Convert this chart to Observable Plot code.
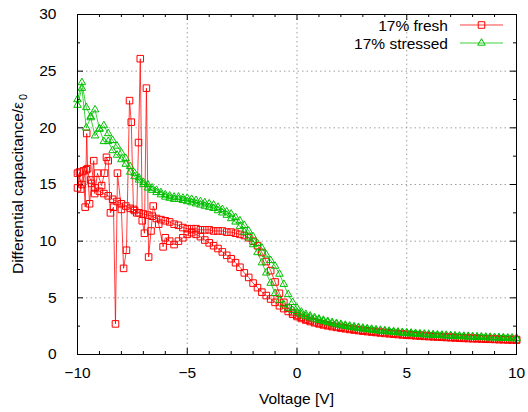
<!DOCTYPE html>
<html><head><meta charset="utf-8">
<script src="https://cdn.jsdelivr.net/npm/d3@7"></script>
<script src="https://cdn.jsdelivr.net/npm/@observablehq/plot@0.6"></script>
<style>body{margin:0;background:#fff} svg{display:block}</style>
</head><body><div id="chart"></div>
<script>
// Voltage grid (V)
const voltage = [-10,-9.8,-9.6,-9.4,-9.2,-9,-8.8,-8.6,-8.4,-8.2,-8,-7.8,-7.6,-7.4,-7.2,-7,-6.8,-6.6,-6.4,-6.2,-6,-5.8,-5.6,-5.4,-5.2,-5,-4.8,-4.6,-4.4,-4.2,-4,-3.8,-3.6,-3.4,-3.2,-3,-2.8,-2.6,-2.4,-2.2,-2,-1.8,-1.6,-1.4,-1.2,-1,-0.8,-0.6,-0.4,-0.2,0,0.2,0.4,0.6,0.8,1,1.2,1.4,1.6,1.8,2,2.2,2.4,2.6,2.8,3,3.2,3.4,3.6,3.8,4,4.2,4.4,4.6,4.8,5,5.2,5.4,5.6,5.8,6,6.2,6.4,6.6,6.8,7,7.2,7.4,7.6,7.8,8,8.2,8.4,8.6,8.8,9,9.2,9.4,9.6,9.8,10];

// 17% fresh, sweep -10 -> +10
const freshUp = [16.0,15.0,16.3,15.4,14.7,14.4,14.2,14.0,13.7,13.5,
13.3,13.1,12.9,12.7,12.5,12.4,12.3,12.2,12.0,11.9,
11.8,11.7,11.5,11.4,11.2,11.1,11.1,11.1,11.0,11.0,
11.0,10.9,10.9,10.9,10.8,10.8,10.7,10.6,10.5,10.3,
10.0,9.6,9.0,8.2,7.4,6.4,5.4,4.6,4.1,3.7,
3.45,
3.28,3.13,3.0,2.88,2.78,2.7,2.62,2.54,2.47,2.41,
2.35,2.29,2.24,2.19,2.14,2.1,2.06,2.02,1.98,1.94,
1.91,1.87,1.84,1.81,1.78,1.75,1.72,1.7,1.67,1.65,
1.62,1.6,1.58,1.56,1.54,1.52,1.5,1.48,1.47,1.45,
1.44,1.42,1.41,1.39,1.38,1.37,1.35,1.34,1.33,1.32];

// 17% fresh, sweep +10 -> -10
const freshDownV = [10,9.8,9.6,9.4,9.2,9,8.8,8.6,8.4,8.2,8,7.8,7.6,7.4,7.2,7,6.8,6.6,6.4,6.2,6,5.8,5.6,5.4,5.2,5,4.8,4.6,4.4,4.2,4,3.8,3.6,3.4,3.2,3,2.8,2.6,2.4,2.2,2,1.8,1.6,1.4,1.2,1,0.8,0.6,0.4,0.2,0,
-0.2,-0.4,-0.6,-0.8,-1,-1.2,-1.4,-1.6,-1.8,-2,-2.2,-2.4,-2.6,-2.8,-3,-3.2,-3.4,-3.6,-3.8,-4,-4.2,-4.4,-4.6,-4.8,-5,-5.2,-5.4,-5.6,-5.8,
-6.0,-6.1,-6.3,-6.55,-6.65,-6.76,-6.86,-6.95,-7.05,-7.14,-7.22,-7.3,-7.45,-7.55,-7.63,-7.77,-7.9,-8.0,-8.18,-8.27,-8.36,-8.5,-8.6,-8.68,-8.77,-8.9,-9.09,-9.22,-9.26,-9.36,-9.45,-9.54,-9.58,-9.65,-9.73,-9.85,-9.91,-10];
const freshDown = [1.27,1.28,1.29,1.3,1.31,1.33,1.34,1.35,1.37,1.38,
1.39,1.41,1.42,1.44,1.46,1.48,1.5,1.52,1.54,1.56,
1.58,1.6,1.63,1.65,1.68,1.7,1.73,1.76,1.79,1.83,
1.86,1.9,1.94,1.98,2.02,2.06,2.11,2.16,2.21,2.27,
2.33,2.39,2.46,2.53,2.61,2.7,2.8,2.91,3.04,3.18,
3.35,
3.55,3.8,4.05,4.3,4.6,4.9,5.2,5.5,5.9,6.3,
6.8,7.2,7.7,8.1,8.45,8.75,9.05,9.35,9.6,9.85,
10.1,10.4,10.6,10.75,10.6,10.3,10.0,9.7,10.0,
10.3,9.5,11.5,13.1,10.9,8.6,23.5,10.7,11.8,26.1,18.7,12.5,12.8,20.5,22.4,9.2,7.6,12.8,16.0,2.7,13.0,12.5,17.1,17.4,16.0,14.9,16.0,14.2,17.1,15.1,13.3,16.4,19.5,13.0,16.2,14.6,16.1,14.7];

// 17% stressed, sweep -10 -> +10
const stressedUp = [22.5,24.0,21.8,21.0,21.6,19.9,20.2,19.5,18.9,18.4,
17.8,17.3,16.6,16.0,15.6,15.2,15.0,14.7,14.5,14.3,
14.1,14.0,13.9,13.9,13.8,13.8,13.7,13.6,13.5,13.4,
13.3,13.2,13.0,12.8,12.6,12.4,12.1,11.8,11.4,10.9,
10.4,9.8,9.4,8.8,8.3,7.8,7.1,6.2,5.3,4.6,
4.1,
3.75,3.55,3.4,3.26,3.14,3.03,2.93,2.84,2.75,2.67,
2.59,2.52,2.46,2.4,2.34,2.29,2.24,2.19,2.15,2.11,
2.07,2.03,1.99,1.96,1.93,1.9,1.87,1.84,1.81,1.79,
1.76,1.74,1.72,1.7,1.68,1.66,1.64,1.62,1.61,1.59,
1.57,1.56,1.54,1.53,1.51,1.5,1.49,1.47,1.46,1.45];

// 17% stressed, sweep +10 -> -10 (listed on the same ascending voltage grid)
const stressedDown = [22.0,23.5,20.0,20.9,19.3,19.9,18.8,18.8,18.0,17.6,
17.2,16.8,16.1,15.7,15.4,15.0,14.7,14.5,14.3,14.1,
13.9,13.8,13.7,13.7,13.6,13.5,13.4,13.3,13.2,13.1,
13.0,12.9,12.7,12.5,12.3,12.0,11.7,11.3,10.8,10.3,
9.7,9.0,8.1,7.2,6.3,5.4,4.8,4.4,4.1,3.9,
3.7,
3.52,3.38,3.25,3.13,3.02,2.92,2.82,2.73,2.64,2.56,
2.49,2.42,2.36,2.3,2.25,2.2,2.15,2.11,2.07,2.03,
1.99,1.95,1.92,1.89,1.86,1.83,1.8,1.77,1.75,1.72,
1.7,1.68,1.66,1.64,1.62,1.6,1.58,1.57,1.55,1.53,
1.52,1.5,1.49,1.47,1.46,1.45,1.43,1.42,1.41,1.4];

// Axis ticks
const xMajor = [-10,-5,0,5,10];
const xMinor = [-9,-8,-7,-6,-4,-3,-2,-1,1,2,3,4,6,7,8,9];
const yMajor = [0,5,10,15,20,25,30];
const yMinor = [2.5,7.5,12.5,17.5,22.5,27.5];
const xGrid = [-5,0,5];
const yGrid = [5,10,15,20,25];

const seriesNames = ["17% fresh","17% stressed"];
const seriesColors = ["#ff0000","#00c000"];

const zip = (xs, ys) => { const n = Math.min(xs.length, ys.length); return d3.range(n).map(i => ({v: xs[i], c: ys[i]})); };
const fU = zip(voltage, freshUp), fD = zip(freshDownV, freshDown);
const sU = zip(voltage, stressedUp), sD = zip(voltage, stressedDown);

const W = 528, H = 412, mL = 77, mR = 12, mT = 14, mB = 58;
const pw = W - mL - mR, ph = H - mT - mB;
const FONT = "'Liberation Sans', Arial, Helvetica, sans-serif";
const FS = 15.5;

const gridStyle = {stroke: "#a0a0a0", strokeOpacity: 1, strokeWidth: 1, strokeDasharray: "1.5,3"};
const tickStyle = {stroke: "#000", strokeWidth: 1, strokeOpacity: 1};

const lineOpts = (col) => ({x: "v", y: "c", stroke: col, strokeWidth: 1, strokeOpacity: 0.75});
const dotOpts = (col, sym, r) => ({x: "v", y: "c", stroke: col, fill: "none", symbol: sym, r, strokeWidth: 1});

const svg = Plot.plot({
  width: W, height: H,
  marginLeft: mL, marginRight: mR, marginTop: mT, marginBottom: mB,
  style: {fontFamily: FONT, fontSize: FS + "px", color: "#000", background: "#fff", overflow: "visible"},
  x: {domain: [-10, 10]},
  y: {domain: [0, 30]},
  marks: [
    Plot.ruleX(xGrid, gridStyle),
    Plot.ruleY(yGrid, gridStyle),
    Plot.tickX(xMajor, {x: d => d, insetTop: ph - 6, ...tickStyle}),
    Plot.tickX(xMajor, {x: d => d, insetBottom: ph - 6, ...tickStyle}),
    Plot.tickX(xMinor, {x: d => d, insetTop: ph - 3, ...tickStyle}),
    Plot.tickX(xMinor, {x: d => d, insetBottom: ph - 3, ...tickStyle}),
    Plot.tickY(yMajor, {y: d => d, insetRight: pw - 6, ...tickStyle}),
    Plot.tickY(yMajor, {y: d => d, insetLeft: pw - 6, ...tickStyle}),
    Plot.tickY(yMinor, {y: d => d, insetRight: pw - 3, ...tickStyle}),
    Plot.tickY(yMinor, {y: d => d, insetLeft: pw - 3, ...tickStyle}),
    Plot.line(fU, lineOpts(seriesColors[0])),
    Plot.line(fD, lineOpts(seriesColors[0])),
    Plot.dot(fU, dotOpts(seriesColors[0], "square", 3.7)),
    Plot.dot(fD, dotOpts(seriesColors[0], "square", 3.7)),
    Plot.line(sU, lineOpts(seriesColors[1])),
    Plot.line(sD, lineOpts(seriesColors[1])),
    Plot.dot(sU, dotOpts(seriesColors[1], "triangle", 2.8)),
    Plot.dot(sD, dotOpts(seriesColors[1], "triangle", 2.8)),
    Plot.frame({stroke: "#000", strokeWidth: 1}),
    Plot.axisX(xMajor, {tickSize: 0, tickPadding: 12, label: null, fontSize: FS}),
    Plot.axisY(yMajor, {tickSize: 0, tickPadding: 21, label: null, fontSize: FS})
  ]
});

const s = d3.select(svg);
// Axis titles
s.append("text")
  .attr("x", mL + pw / 2).attr("y", 404)
  .attr("text-anchor", "middle")
  .attr("font-family", FONT).attr("font-size", FS).attr("fill", "#000")
  .text("Voltage [V]");
const yt = s.append("text")
  .attr("transform", `translate(23,${mT + ph / 2}) rotate(-90)`)
  .attr("text-anchor", "middle")
  .attr("font-family", FONT).attr("font-size", FS).attr("fill", "#000");
yt.append("tspan").text("Differential capacitance/ε");
yt.append("tspan").attr("dx", 2).attr("dy", 4).attr("font-size", FS * 0.7).text("0");

// Legend
const legRows = [25, 43];
seriesNames.forEach((name, i) => {
  const y = legRows[i];
  const g = s.append("g");
  g.append("text").attr("x", 448).attr("y", y + 5.5).attr("text-anchor", "end")
    .attr("font-family", FONT).attr("font-size", FS).attr("fill", "#000").text(name);
  g.append("line").attr("x1", 460).attr("x2", 503).attr("y1", y).attr("y2", y)
    .attr("stroke", seriesColors[i]).attr("stroke-opacity", 0.75).attr("stroke-width", 1);
  const sym = i === 0 ? d3.symbolSquare : d3.symbolTriangle;
  const r = i === 0 ? 3.7 : 2.8;
  g.append("path").attr("transform", `translate(481.5,${y})`)
    .attr("d", d3.symbol(sym, Math.PI * r * r)())
    .attr("fill", "none").attr("stroke", seriesColors[i]).attr("stroke-width", 1);
});

document.getElementById("chart").append(svg);
</script>
</body></html>
